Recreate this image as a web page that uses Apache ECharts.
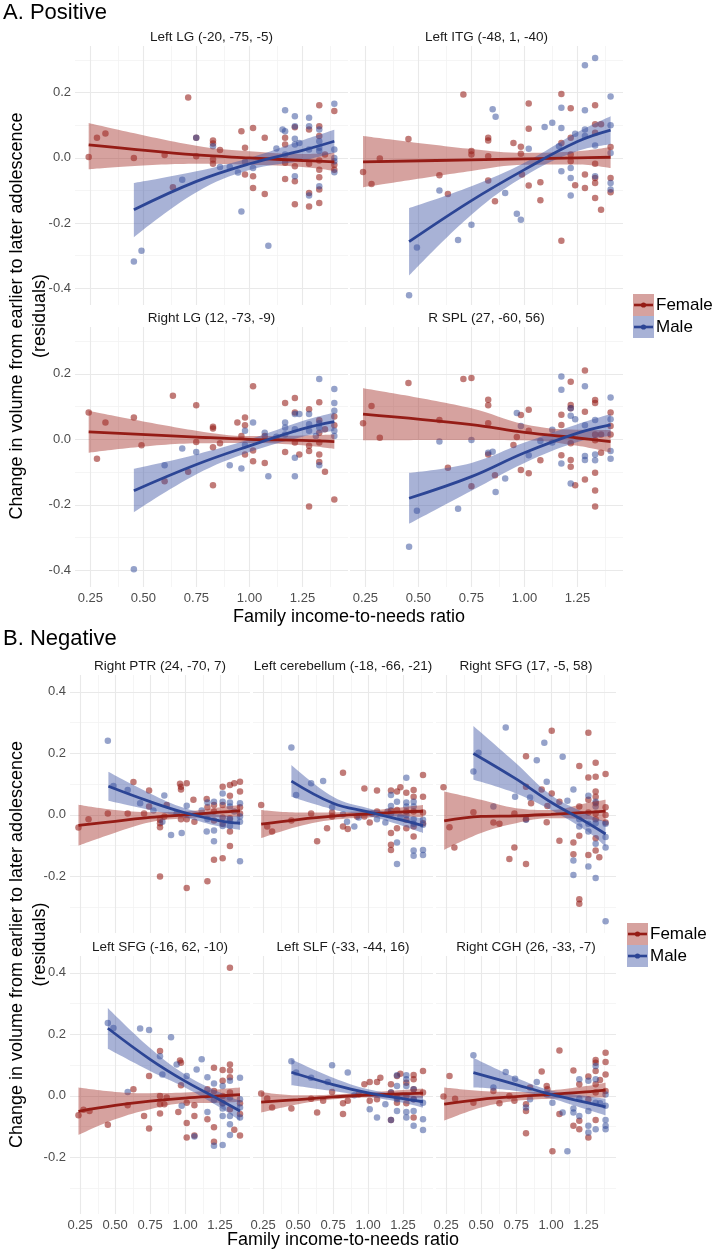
<!DOCTYPE html>
<html><head><meta charset="utf-8">
<script src="https://cdn.jsdelivr.net/npm/echarts@6/dist/echarts.min.js"></script>
<style>html,body{margin:0;padding:0;background:#fff}#c{width:714px;height:1254px}</style>
</head><body><div id="c"></div><script>
// ---------- axis / tick values ----------
const xTicks = [0.25, 0.5, 0.75, 1.0, 1.25];
const xMinor = [0.375, 0.625, 0.875, 1.125, 1.375];
const yTicksA = [-0.4, -0.2, 0.0, 0.2];
const yMinorA = [-0.3, -0.1, 0.1, 0.3];
const yTicksB = [-0.2, 0.0, 0.2, 0.4];
const yMinorB = [-0.3, -0.1, 0.1, 0.3];
const xRange = [0.1775, 1.4645];
const yRangeA = [-0.451, 0.343];
const yRangeB = [-0.384, 0.455];
const titlesA = ['Left LG (-20, -75, -5)', 'Left ITG (-48, 1, -40)', 'Right LG (12, -73, -9)', 'R SPL (27, -60, 56)'];
const titlesB = ['Right PTR (24, -70, 7)', 'Left cerebellum (-18, -66, -21)', 'Right SFG (17, -5, 58)', 'Left SFG (-16, 62, -10)', 'Left SLF (-33, -44, 16)', 'Right CGH (26, -33, -7)'];
const legendNames = ['Female', 'Male'];
const partTitles = ['A. Positive', 'B. Negative'];
const xTitle = 'Family income-to-needs ratio';
const yTitle = 'Change in volume from earlier to later adolescence\n(residuals)';

// ---------- data: points [income, residual]; fits [income, fit, lower, upper] ----------
const lgF = [[0.242,0.003],[0.281,0.062],[0.321,0.075],[0.455,0.0],[0.60,0.009],[0.639,-0.09],[0.711,0.185],[0.749,0.062],[0.749,0.005],[0.828,0.053],[0.828,0.044],[0.828,-0.005],[0.828,-0.018],[0.861,0.024],[0.962,0.082],[0.979,0.031],[0.979,-0.051],[1.017,0.092],[1.017,-0.056],[1.017,-0.092],[1.072,0.062],[1.072,-0.111],[1.168,0.062],[1.168,0.041],[1.168,-0.015],[1.168,-0.065],[1.214,0.094],[1.214,-0.026],[1.214,-0.072],[1.214,-0.142],[1.281,0.087],[1.281,-0.018],[1.281,-0.108],[1.281,-0.149],[1.329,0.161],[1.329,0.097],[1.329,0.067],[1.329,-0.008],[1.329,-0.036],[1.329,-0.059],[1.329,-0.097],[1.329,-0.138],[1.356,0.01],[1.40,0.144],[1.40,-0.021],[1.40,-0.036]];
const lgM = [[0.455,-0.318],[0.491,-0.285],[0.683,-0.067],[0.749,0.062],[0.828,0.036],[0.861,-0.028],[0.907,-0.028],[0.946,-0.045],[0.962,-0.164],[0.979,-0.012],[1.017,-0.031],[1.089,-0.269],[1.127,0.029],[1.156,0.087],[1.168,0.146],[1.168,0.082],[1.168,0.01],[1.214,0.128],[1.214,0.097],[1.214,0.059],[1.214,0.041],[1.214,-0.056],[1.235,0.046],[1.281,0.123],[1.281,0.097],[1.281,0.026],[1.281,-0.115],[1.329,0.087],[1.329,0.051],[1.329,0.031],[1.329,0.021],[1.329,-0.087],[1.40,0.166],[1.40,0.026],[1.40,0.0],[1.40,-0.01],[1.40,-0.044]];
const lgFFit = [[0.242,0.040,-0.035,0.107],[0.75,0.009,-0.018,0.037],[1.0,0.0,-0.021,0.02],[1.25,-0.008,-0.028,0.012],[1.40,-0.012,-0.04,0.016]];
const lgMFit = [[0.455,-0.159,-0.243,-0.077],[0.75,-0.072,-0.105,-0.041],[1.0,-0.018,-0.037,0.0],[1.25,0.023,-0.008,0.054],[1.40,0.051,0.016,0.086]];

const itgF = [[0.239,-0.043],[0.279,-0.08],[0.318,-0.002],[0.453,0.058],[0.599,-0.053],[0.639,-0.111],[0.712,0.194],[0.75,0.021],[0.75,0.01],[0.829,0.062],[0.829,0.053],[0.829,0.005],[0.829,-0.069],[0.861,-0.133],[0.948,0.046],[0.983,0.034],[0.983,0.013],[0.988,-0.051],[1.02,0.167],[1.02,0.089],[1.02,-0.085],[1.075,-0.075],[1.075,-0.13],[1.174,0.196],[1.174,0.046],[1.174,-0.254],[1.218,0.152],[1.218,0.062],[1.218,0.01],[1.218,-0.01],[1.239,-0.084],[1.285,-0.051],[1.285,-0.092],[1.333,0.161],[1.333,0.103],[1.333,0.077],[1.333,-0.018],[1.333,-0.062],[1.333,-0.077],[1.333,-0.123],[1.361,0.103],[1.361,-0.159],[1.406,0.033],[1.406,-0.062],[1.406,-0.105]];
const itgM = [[0.456,-0.421],[0.493,-0.275],[0.599,-0.1],[0.687,-0.252],[0.75,-0.205],[0.85,0.149],[0.864,0.126],[0.909,-0.108],[0.964,-0.171],[0.983,-0.19],[1.02,0.028],[1.095,0.095],[1.131,0.108],[1.163,0.036],[1.174,0.154],[1.174,0.092],[1.174,-0.041],[1.218,-0.031],[1.218,-0.062],[1.218,-0.115],[1.239,0.074],[1.285,0.284],[1.285,0.146],[1.285,0.087],[1.285,0.067],[1.333,0.306],[1.333,0.038],[1.333,-0.056],[1.406,0.188],[1.406,0.1],[1.406,0.015],[1.406,-0.077],[1.406,-0.097]];
const itgFFit = [[0.239,-0.012,-0.09,0.067],[0.75,-0.006,-0.04,0.027],[1.0,-0.003,-0.021,0.015],[1.25,0.0,-0.02,0.02],[1.406,0.002,-0.031,0.033]];
const itgMFit = [[0.456,-0.257,-0.361,-0.154],[0.75,-0.131,-0.174,-0.087],[1.0,-0.036,-0.056,-0.015],[1.25,0.05,0.021,0.079],[1.406,0.085,0.041,0.128]];

const rlgF = [[0.242,0.082],[0.281,-0.059],[0.321,0.051],[0.455,0.067],[0.491,-0.018],[0.60,-0.128],[0.639,0.133],[0.711,-0.099],[0.749,0.104],[0.749,-0.008],[0.828,0.038],[0.828,0.033],[0.828,-0.024],[0.828,-0.14],[0.861,-0.012],[0.943,0.051],[0.962,0.01],[0.979,0.067],[0.979,0.043],[0.979,-0.046],[1.017,0.162],[1.017,-0.034],[1.017,-0.067],[1.072,0.01],[1.072,-0.072],[1.168,0.111],[1.168,-0.039],[1.214,0.126],[1.214,0.082],[1.214,-0.01],[1.235,-0.046],[1.281,0.092],[1.281,-0.02],[1.281,-0.036],[1.281,-0.205],[1.329,0.113],[1.329,0.058],[1.329,0.02],[1.329,-0.01],[1.329,-0.046],[1.329,-0.069],[1.356,0.031],[1.356,-0.099],[1.40,0.07],[1.40,0.043],[1.40,-0.184]];
const rlgM = [[0.455,-0.397],[0.60,-0.079],[0.683,-0.028],[0.749,-0.039],[0.907,-0.079],[0.962,-0.089],[0.979,0.026],[0.979,-0.017],[1.017,0.051],[1.072,0.02],[1.089,-0.113],[1.127,0.008],[1.168,0.051],[1.168,0.036],[1.168,0.015],[1.214,0.077],[1.214,0.031],[1.214,-0.056],[1.214,-0.113],[1.235,0.077],[1.281,0.077],[1.281,0.046],[1.281,0.026],[1.313,0.01],[1.329,0.184],[1.329,0.049],[1.329,0.036],[1.329,-0.079],[1.40,0.154],[1.40,0.111],[1.40,0.087],[1.40,0.026],[1.40,0.01]];
const rlgFFit = [[0.242,0.023,-0.041,0.087],[0.75,0.007,-0.012,0.026],[1.0,0.0,-0.011,0.01],[1.25,-0.003,-0.018,0.012],[1.40,-0.007,-0.029,0.015]];
const rlgMFit = [[0.455,-0.157,-0.223,-0.09],[0.75,-0.077,-0.107,-0.046],[1.0,-0.02,-0.039,0.0],[1.25,0.032,0.008,0.056],[1.40,0.054,0.026,0.082]];

const splF = [[0.239,0.049],[0.279,0.102],[0.318,0.005],[0.453,0.172],[0.599,0.059],[0.639,-0.087],[0.712,0.184],[0.75,0.187],[0.75,-0.143],[0.829,0.121],[0.829,0.104],[0.829,0.049],[0.829,-0.046],[0.861,-0.11],[0.948,-0.017],[0.964,0.007],[0.983,0.074],[0.983,-0.094],[1.02,0.09],[1.02,0.026],[1.02,-0.104],[1.075,-0.064],[1.174,0.075],[1.174,0.044],[1.174,-0.049],[1.218,0.176],[1.218,0.105],[1.218,0.095],[1.218,-0.012],[1.218,-0.063],[1.218,-0.084],[1.239,-0.14],[1.285,0.21],[1.285,0.084],[1.285,-0.123],[1.333,0.12],[1.333,0.111],[1.333,0.015],[1.333,-0.003],[1.333,-0.102],[1.333,-0.156],[1.333,-0.205],[1.361,0.015],[1.361,-0.041],[1.406,0.082],[1.406,0.041],[1.406,0.015]];
const splM = [[0.456,-0.328],[0.493,-0.218],[0.599,-0.007],[0.687,-0.212],[0.75,-0.002],[0.829,-0.041],[0.85,-0.038],[0.864,-0.161],[0.909,-0.12],[0.964,0.08],[0.983,0.041],[1.02,-0.049],[1.075,-0.005],[1.131,0.029],[1.131,-0.01],[1.174,0.192],[1.174,0.151],[1.174,-0.074],[1.218,0.095],[1.218,0.072],[1.218,-0.135],[1.239,0.061],[1.285,0.162],[1.285,0.043],[1.285,-0.051],[1.285,-0.063],[1.333,0.059],[1.333,-0.046],[1.333,-0.064],[1.406,0.128],[1.406,0.061],[1.406,-0.036],[1.406,-0.059]];
const splFFit = [[0.239,0.077,-0.003,0.156],[0.75,0.045,-0.002,0.095],[1.0,0.021,-0.003,0.046],[1.25,0.004,-0.02,0.029],[1.406,-0.007,-0.041,0.028]];
const splMFit = [[0.456,-0.18,-0.258,-0.102],[0.75,-0.114,-0.157,-0.072],[1.0,-0.041,-0.072,-0.01],[1.25,0.019,-0.008,0.046],[1.406,0.044,0.01,0.077]];

const ptrF = [[0.238,-0.041],[0.31,-0.014],[0.448,0.005],[0.59,0.005],[0.631,0.107],[0.707,0.005],[0.743,0.079],[0.743,0.027],[0.821,-0.016],[0.821,-0.027],[0.821,-0.04],[0.821,-0.2],[0.852,-0.005],[0.869,0.032],[0.964,0.101],[0.971,0.092],[0.971,0.083],[0.971,-0.014],[1.012,0.103],[1.012,-0.014],[1.012,-0.238],[1.06,0.049],[1.067,-0.022],[1.155,0.052],[1.16,0.025],[1.16,-0.216],[1.207,0.032],[1.207,0.011],[1.207,-0.018],[1.207,-0.146],[1.269,0.092],[1.269,0.032],[1.269,-0.008],[1.269,-0.029],[1.269,-0.141],[1.321,0.097],[1.321,0.062],[1.321,-0.011],[1.321,-0.054],[1.321,-0.101],[1.352,0.103],[1.393,0.108],[1.393,0.076],[1.393,0.025],[1.393,0.005]];
const ptrM = [[0.448,0.241],[0.488,0.094],[0.59,0.081],[0.679,0.038],[0.774,0.014],[0.838,-0.022],[0.852,0.063],[0.9,-0.065],[0.94,0.005],[0.976,-0.059],[1.012,0.03],[1.119,0.014],[1.155,-0.054],[1.16,0.04],[1.16,-0.013],[1.207,0.043],[1.207,-0.051],[1.207,-0.086],[1.269,0.07],[1.269,0.043],[1.269,-0.036],[1.321,0.04],[1.321,0.027],[1.321,-0.016],[1.321,-0.036],[1.352,0.011],[1.393,0.038],[1.393,-0.005],[1.393,-0.022],[1.393,-0.151]];
const ptrFFit = [[0.238,-0.034,-0.1,0.033],[0.5,-0.021,-0.058,0.016],[0.75,-0.008,-0.024,0.009],[1.0,0.0,-0.011,0.011],[1.25,0.009,-0.007,0.025],[1.393,0.013,-0.006,0.032]];
const ptrMFit = [[0.452,0.093,0.046,0.14],[0.75,0.043,0.016,0.07],[1.0,0.007,-0.008,0.022],[1.25,-0.019,-0.038,0.0],[1.393,-0.027,-0.049,-0.005]];

const cerF = [[0.236,0.032],[0.279,-0.038],[0.314,-0.054],[0.452,-0.018],[0.593,0.005],[0.636,-0.086],[0.707,-0.043],[0.743,0.008],[0.743,-0.005],[0.821,0.137],[0.821,-0.038],[0.855,-0.046],[0.921,-0.005],[0.974,0.086],[0.974,-0.005],[1.012,-0.025],[1.064,0.079],[1.064,0.011],[1.164,0.079],[1.164,0.014],[1.164,-0.059],[1.164,-0.097],[1.164,-0.114],[1.207,0.076],[1.207,0.016],[1.207,-0.043],[1.231,0.09],[1.274,0.072],[1.274,0.011],[1.274,-0.016],[1.274,-0.043],[1.326,0.081],[1.326,0.059],[1.326,0.011],[1.326,-0.038],[1.326,-0.07],[1.393,0.13],[1.393,0.059],[1.393,0.008],[1.393,-0.027]];
const cerM = [[0.452,0.219],[0.486,0.065],[0.593,0.103],[0.679,0.11],[0.743,0.025],[0.821,0.002],[0.85,-0.022],[0.902,-0.038],[0.933,-0.008],[1.029,0.005],[1.064,-0.014],[1.124,-0.025],[1.14,0.011],[1.164,0.065],[1.164,0.029],[1.164,0.005],[1.207,0.043],[1.207,-0.09],[1.207,-0.16],[1.231,-0.005],[1.274,0.121],[1.274,0.04],[1.274,0.027],[1.274,0.0],[1.326,0.043],[1.326,0.027],[1.326,-0.014],[1.326,-0.029],[1.326,-0.116],[1.326,-0.133],[1.393,-0.016],[1.393,-0.032],[1.393,-0.114],[1.393,-0.13]];
const cerFFit = [[0.236,-0.03,-0.076,0.016],[0.5,-0.015,-0.038,0.008],[0.75,-0.004,-0.016,0.008],[1.0,0.003,-0.008,0.014],[1.25,0.01,-0.005,0.025],[1.393,0.012,-0.008,0.032]];
const cerMFit = [[0.452,0.11,0.059,0.162],[0.75,0.038,0.018,0.059],[1.0,0.01,-0.003,0.022],[1.25,-0.018,-0.036,0.0],[1.393,-0.035,-0.059,-0.011]];

const sfgF = [[0.231,0.09],[0.274,-0.04],[0.309,-0.106],[0.445,0.009],[0.588,-0.025],[0.631,-0.029],[0.702,-0.143],[0.738,0.005],[0.738,-0.106],[0.821,0.191],[0.821,0.092],[0.821,-0.014],[0.821,-0.16],[0.857,0.038],[0.933,0.083],[0.969,-0.024],[0.974,0.029],[1.005,0.274],[1.005,0.07],[1.06,0.043],[1.06,-0.084],[1.16,-0.09],[1.16,-0.128],[1.202,0.159],[1.202,0.027],[1.202,-0.068],[1.202,-0.274],[1.202,-0.289],[1.267,0.267],[1.267,0.122],[1.267,0.049],[1.267,0.008],[1.267,-0.13],[1.319,0.17],[1.319,0.124],[1.319,0.076],[1.319,0.059],[1.319,0.038],[1.319,0.005],[1.319,-0.014],[1.319,-0.076],[1.319,-0.116],[1.345,-0.138],[1.39,0.133],[1.39,0.025],[1.39,0.0],[1.39,-0.025]];
const sfgM = [[0.445,0.141],[0.481,0.202],[0.588,0.027],[0.676,0.284],[0.743,0.059],[0.821,-0.016],[0.85,0.057],[0.898,0.178],[0.952,0.235],[0.969,0.108],[1.083,0.189],[1.117,0.046],[1.16,0.083],[1.16,-0.148],[1.16,-0.195],[1.202,-0.014],[1.202,-0.038],[1.267,0.062],[1.267,-0.029],[1.267,-0.054],[1.267,-0.168],[1.319,0.043],[1.319,0.027],[1.319,-0.027],[1.319,-0.094],[1.319,-0.205],[1.39,-0.029],[1.39,-0.072],[1.39,-0.106],[1.39,-0.346]];
const sfgFFit = [[0.236,-0.019,-0.114,0.076],[0.5,-0.005,-0.059,0.049],[0.75,-0.003,-0.027,0.022],[1.0,0.002,-0.011,0.016],[1.25,0.008,-0.014,0.038],[1.39,0.012,-0.022,0.049]];
const sfgMFit = [[0.445,0.2,0.114,0.289],[0.75,0.117,0.07,0.168],[1.0,0.041,0.016,0.065],[1.25,-0.023,-0.051,0.005],[1.39,-0.062,-0.103,-0.022]];

const lsfgF = [[0.238,-0.063],[0.274,-0.045],[0.317,-0.049],[0.448,-0.094],[0.59,-0.03],[0.631,0.022],[0.707,-0.065],[0.743,-0.106],[0.743,0.065],[0.821,0.146],[0.821,0.0],[0.821,-0.027],[0.821,-0.057],[0.852,-0.027],[0.869,-0.005],[0.952,-0.052],[0.964,0.115],[0.971,0.108],[0.971,0.035],[1.012,-0.022],[1.012,-0.088],[1.012,-0.135],[1.067,-0.03],[1.067,-0.065],[1.067,-0.129],[1.16,0.022],[1.16,-0.076],[1.207,0.092],[1.207,0.016],[1.207,-0.102],[1.207,-0.149],[1.269,0.084],[1.269,0.049],[1.269,0.0],[1.269,-0.024],[1.321,0.417],[1.321,0.102],[1.321,0.083],[1.321,0.061],[1.321,0.011],[1.321,-0.043],[1.352,-0.11],[1.393,-0.024],[1.393,-0.059],[1.393,-0.129]];
const lsfgM = [[0.448,0.237],[0.488,0.221],[0.59,0.013],[0.679,0.219],[0.743,0.214],[0.821,0.129],[0.838,0.07],[0.9,0.191],[0.94,0.102],[0.976,-0.032],[1.012,0.065],[1.067,-0.132],[1.083,0.086],[1.119,0.119],[1.16,0.061],[1.16,-0.052],[1.207,0.04],[1.207,-0.013],[1.207,-0.162],[1.269,0.032],[1.269,-0.024],[1.269,-0.041],[1.269,-0.065],[1.269,-0.16],[1.321,0.049],[1.321,-0.005],[1.321,-0.065],[1.321,-0.092],[1.321,-0.127],[1.393,0.059],[1.393,-0.011],[1.393,-0.038],[1.393,-0.07]];
const lsfgFFit = [[0.238,-0.05,-0.127,0.027],[0.5,-0.031,-0.076,0.013],[0.75,-0.017,-0.043,0.009],[1.0,-0.007,-0.024,0.011],[1.25,0.0,-0.022,0.022],[1.393,0.004,-0.019,0.027]];
const lsfgMFit = [[0.448,0.22,0.153,0.286],[0.75,0.119,0.081,0.156],[1.0,0.048,0.027,0.07],[1.25,-0.013,-0.038,0.011],[1.393,-0.049,-0.081,-0.016]];

const slfF = [[0.236,0.008],[0.279,-0.008],[0.314,-0.038],[0.452,-0.041],[0.593,-0.009],[0.636,-0.054],[0.679,-0.016],[0.743,0.013],[0.821,-0.024],[0.821,-0.059],[0.855,-0.016],[0.933,0.005],[0.974,0.038],[1.012,0.045],[1.012,-0.016],[1.064,0.045],[1.064,-0.011],[1.088,0.059],[1.164,0.038],[1.164,0.011],[1.164,-0.078],[1.207,0.065],[1.207,-0.005],[1.207,-0.022],[1.231,0.072],[1.274,0.043],[1.274,0.0],[1.274,-0.024],[1.326,0.068],[1.326,0.054],[1.326,0.022],[1.326,-0.011],[1.326,-0.07],[1.393,0.081],[1.393,0.011]];
const slfM = [[0.452,0.113],[0.486,0.076],[0.593,0.059],[0.712,0.045],[0.743,0.1],[0.855,0.076],[0.902,0.002],[1.012,-0.043],[1.064,-0.07],[1.124,-0.027],[1.164,0.011],[1.164,-0.078],[1.207,0.067],[1.207,0.032],[1.207,-0.011],[1.207,-0.049],[1.274,0.067],[1.274,0.054],[1.274,0.032],[1.274,-0.052],[1.274,-0.07],[1.326,0.022],[1.326,-0.011],[1.326,-0.049],[1.326,-0.097],[1.393,-0.022],[1.393,-0.076],[1.393,-0.111]];
const slfFFit = [[0.236,-0.02,-0.054,0.013],[0.5,-0.012,-0.027,0.002],[0.75,-0.003,-0.011,0.005],[1.0,0.003,-0.005,0.011],[1.25,0.007,-0.005,0.019],[1.393,0.009,-0.006,0.024]];
const slfMFit = [[0.452,0.077,0.035,0.119],[0.75,0.037,0.016,0.059],[1.0,0.01,-0.002,0.022],[1.25,-0.009,-0.022,0.005],[1.393,-0.019,-0.038,0.0]];

const cghF = [[0.231,-0.002],[0.274,0.065],[0.314,-0.009],[0.445,-0.022],[0.588,0.016],[0.631,-0.024],[0.702,0.0],[0.738,-0.016],[0.821,-0.027],[0.821,-0.049],[0.821,-0.121],[0.85,0.027],[0.933,0.079],[0.969,0.032],[0.974,0.022],[1.01,-0.18],[1.06,0.148],[1.06,-0.059],[1.16,0.083],[1.16,-0.097],[1.202,0.038],[1.202,-0.081],[1.202,-0.108],[1.267,0.063],[1.267,-0.011],[1.267,-0.135],[1.319,0.117],[1.319,0.108],[1.319,0.081],[1.319,0.038],[1.319,0.011],[1.319,-0.078],[1.35,0.052],[1.39,0.14],[1.39,0.11],[1.39,0.07],[1.39,0.016]];
const cghM = [[0.445,0.132],[0.588,0.027],[0.676,0.078],[0.743,0.056],[0.821,-0.038],[0.85,-0.011],[0.898,0.045],[0.969,0.005],[1.01,-0.022],[1.083,-0.054],[1.117,-0.18],[1.16,-0.041],[1.16,-0.054],[1.202,0.054],[1.202,-0.009],[1.202,-0.065],[1.267,0.049],[1.267,-0.049],[1.267,-0.097],[1.267,-0.119],[1.319,0.097],[1.319,0.054],[1.319,-0.022],[1.319,-0.108],[1.35,-0.024],[1.39,0.005],[1.39,-0.032],[1.39,-0.078],[1.39,-0.097],[1.39,-0.108]];
const cghFFit = [[0.236,-0.027,-0.081,0.027],[0.5,-0.011,-0.038,0.016],[0.75,-0.002,-0.016,0.013],[1.0,0.005,-0.009,0.018],[1.25,0.013,-0.005,0.032],[1.39,0.019,-0.005,0.043]];
const cghMFit = [[0.445,0.076,0.027,0.124],[0.75,0.037,0.016,0.059],[1.0,0.005,-0.008,0.018],[1.25,-0.021,-0.043,0.0],[1.39,-0.036,-0.063,-0.009]];

// ---------- styling ----------
const FONT = '"Liberation Sans", Arial, Helvetica, sans-serif';
const colF = '#951c16', colM = '#2c4595';
const bandF = '#a3302b', bandM = '#3f54a3';

// panel table built from the arrays above (positions in px are layout only)
const panels = [
  {f:lgF,  m:lgM,  ff:lgFFit,  mf:lgMFit,  title:titlesA[0], part:'A', left:75,  top:46,  w:273, h:259, showX:false, showY:true},
  {f:itgF, m:itgM, ff:itgFFit, mf:itgMFit, title:titlesA[1], part:'A', left:350, top:46,  w:273, h:259, showX:false, showY:false},
  {f:rlgF, m:rlgM, ff:rlgFFit, mf:rlgMFit, title:titlesA[2], part:'A', left:75,  top:327, w:273, h:260, showX:true,  showY:true},
  {f:splF, m:splM, ff:splFFit, mf:splMFit, title:titlesA[3], part:'A', left:350, top:327, w:273, h:260, showX:true,  showY:false},
  {f:ptrF, m:ptrM, ff:ptrFFit, mf:ptrMFit, title:titlesB[0], part:'B', left:70,  top:675, w:180, h:258, showX:false, showY:true},
  {f:cerF, m:cerM, ff:cerFFit, mf:cerMFit, title:titlesB[1], part:'B', left:253, top:675, w:180, h:258, showX:false, showY:false},
  {f:sfgF, m:sfgM, ff:sfgFFit, mf:sfgMFit, title:titlesB[2], part:'B', left:436, top:675, w:180, h:258, showX:false, showY:false},
  {f:lsfgF,m:lsfgM,ff:lsfgFFit,mf:lsfgMFit,title:titlesB[3], part:'B', left:70,  top:956, w:180, h:258, showX:true,  showY:true},
  {f:slfF, m:slfM, ff:slfFFit, mf:slfMFit, title:titlesB[4], part:'B', left:253, top:956, w:180, h:258, showX:true,  showY:false},
  {f:cghF, m:cghM, ff:cghFFit, mf:cghMFit, title:titlesB[5], part:'B', left:436, top:956, w:180, h:258, showX:true,  showY:false}
];

const grids = [], xAxes = [], yAxes = [], series = [], graphics = [];
const lineItem = (key, v, major) => ({[key]: v, lineStyle: {color: major ? '#e9e9e9' : '#f3f3f3', width: major ? 1.1 : 0.8, type: 'solid'}});

panels.forEach((p, i) => {
  const isA = p.part === 'A';
  const yR = isA ? yRangeA : yRangeB;
  const yT = isA ? yTicksA : yTicksB;
  const yMi = isA ? yMinorA : yMinorB;
  grids.push({left: p.left, top: p.top, width: p.w, height: p.h, containLabel: false, outerBoundsMode: 'none'});
  xAxes.push({gridIndex: i, type: 'value', min: xRange[0], max: xRange[1],
    axisLine: {show: false}, axisTick: {show: false}, splitLine: {show: false},
    axisLabel: {show: p.showX, customValues: xTicks, formatter: v => Number(v).toFixed(2),
      fontSize: 13, color: '#4d4d4d', fontFamily: FONT, margin: 5}});
  yAxes.push({gridIndex: i, type: 'value', min: yR[0], max: yR[1],
    axisLine: {show: false}, axisTick: {show: false}, splitLine: {show: false},
    axisLabel: {show: p.showY, customValues: yT, formatter: v => (Math.abs(v) < 1e-9 ? '0.0' : Number(v).toFixed(1)),
      fontSize: 13, color: '#4d4d4d', fontFamily: FONT, margin: 4}});
  const gl = [].concat(
    xMinor.map(v => lineItem('xAxis', v, false)),
    yMi.map(v => lineItem('yAxis', v, false)),
    xTicks.map(v => lineItem('xAxis', v, true)),
    yT.map(v => lineItem('yAxis', v, true)));
  const common = {xAxisIndex: i, yAxisIndex: i, silent: true, animation: false};
  series.push(Object.assign({type: 'scatter', name: 'Female', data: p.f, symbolSize: 6.5,
    itemStyle: {color: colF, opacity: 0.58},
    markLine: {silent: true, symbol: ['none', 'none'], label: {show: false}, z: 1, animation: false, data: gl}}, common));
  series.push(Object.assign({type: 'scatter', name: 'Male', data: p.m, symbolSize: 6.5,
    itemStyle: {color: colM, opacity: 0.5}}, common));
  const addSmooth = (fit, lineCol, bandCol, key) => {
    // confidence band: lower bound + stacked band height, value column first so it is the stacked one
    series.push(Object.assign({type: 'line', stack: 'band' + key + i, stackStrategy: 'all',
      data: fit.map(d => [d[2], d[0]]), encode: {x: 1, y: 0},
      smooth: 0.4, symbol: 'none', lineStyle: {opacity: 0, width: 0}}, common));
    series.push(Object.assign({type: 'line', stack: 'band' + key + i, stackStrategy: 'all',
      data: fit.map(d => [d[3] - d[2], d[0]]), encode: {x: 1, y: 0},
      smooth: 0.4, symbol: 'none', lineStyle: {opacity: 0, width: 0},
      areaStyle: {color: bandCol, opacity: 0.45}}, common));
    series.push(Object.assign({type: 'line', data: fit.map(d => [d[0], d[1]]),
      smooth: 0.4, symbol: 'none', lineStyle: {color: lineCol, width: 2.8}}, common));
  };
  addSmooth(p.ff, colF, bandF, 'F');
  addSmooth(p.mf, colM, bandM, 'M');
  graphics.push({type: 'text', x: p.left + p.w / 2, y: p.top - 9,
    style: {text: p.title, font: '13.5px ' + FONT, fill: '#1a1a1a', align: 'center', verticalAlign: 'middle', textAlign: 'center', textVerticalAlign: 'middle'}});
});

const txt = (x, y, text, size, opts) => Object.assign({type: 'text', x: x, y: y,
  style: {text: text, font: size + 'px ' + FONT, fill: '#000', align: 'left', verticalAlign: 'middle', textAlign: 'left', textVerticalAlign: 'middle'}}, opts || {});

graphics.push(txt(3, 13, partTitles[0], 22));
graphics.push(txt(3, 639, partTitles[1], 22));
[[349, 617], [343, 1240]].forEach(([x, y]) => {
  const t = txt(x, y, xTitle, 18); t.style.align = 'center'; t.style.textAlign = 'center'; graphics.push(t);
});
[[29, 316], [29, 944.5]].forEach(([x, y]) => {
  const t = txt(x, y, yTitle, 18, {rotation: Math.PI / 2});
  t.style.align = 'center'; t.style.textAlign = 'center'; t.style.lineHeight = 23; graphics.push(t);
});
[[633, 294], [627, 923]].forEach(([lx, ly]) => {
  [[colF, bandF], [colM, bandM]].forEach(([lc, bc], k) => {
    const y0 = ly + k * 22;
    graphics.push({type: 'rect', shape: {x: lx, y: y0, width: 21, height: 22}, style: {fill: bc, opacity: 0.45}});
    graphics.push({type: 'line', shape: {x1: lx + 1, y1: y0 + 11, x2: lx + 20, y2: y0 + 11}, style: {stroke: lc, lineWidth: 2.6}});
    graphics.push({type: 'circle', shape: {cx: lx + 10.5, cy: y0 + 11, r: 2.6}, style: {fill: lc}});
    graphics.push(txt(lx + 23, y0 + 11, legendNames[k], 17));
  });
});

const chart = echarts.init(document.getElementById('c'), null, {renderer: 'canvas'});
chart.setOption({
  animation: false,
  backgroundColor: '#ffffff',
  grid: grids, xAxis: xAxes, yAxis: yAxes, series: series,
  graphic: {elements: graphics}
});
</script></body></html>
